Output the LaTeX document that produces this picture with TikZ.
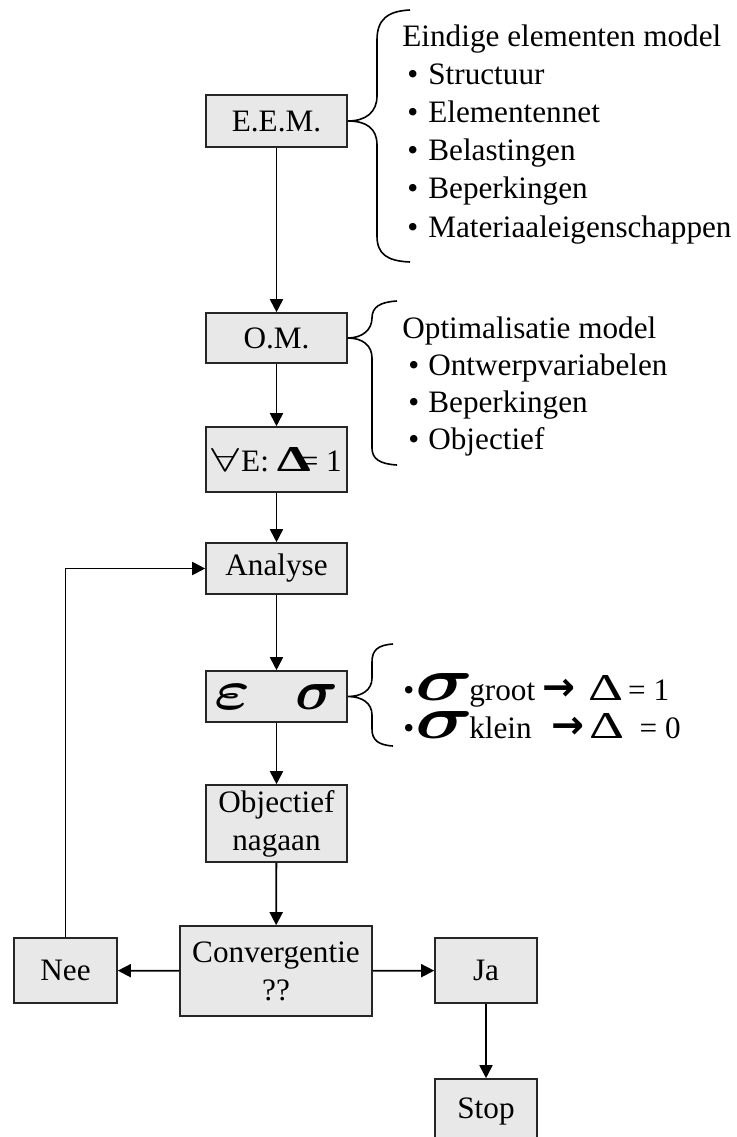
\documentclass[tikz,border=0pt]{standalone}
\usepackage{fontspec}
\setmainfont{Liberation Serif}
\newfontfamily\pijlfont{DejaVu Sans}
\usepackage{graphicx}
\usetikzlibrary{arrows.meta}

% large symbols as in the reference
\newcommand{\grotesigma}{\resizebox{29pt}{13.5pt}{\boldmath$\sigma$}}
\newcommand{\boxsigma}{\resizebox{21.5pt}{12.5pt}{\boldmath$\sigma$}}
\newcommand{\boxeps}{\resizebox{18pt}{12.5pt}{\boldmath$\varepsilon$}}
\newcommand{\grotedelta}{\resizebox{17.5pt}{12.5pt}{Δ}}
\newcommand{\pijltje}{\resizebox{16.5pt}{!}{\pijlfont\bfseries →}}

\tikzset{
  blok/.style={draw=black!85, fill=black!9, line width=0.8pt, inner sep=0pt,
    minimum width=70.5pt, align=center, font=\fontsize{15.6}{19}\selectfont},
  pijl/.style={-{Triangle[length=6.5pt,width=6.5pt]}, line width=0.9pt},
  accolade/.style={line width=0.8pt},
  lijst/.style={anchor=base west, inner sep=0pt, font=\fontsize{15.6}{19}\selectfont}
}

\begin{document}
\begin{tikzpicture}[x=0.5pt, y=-0.5pt]
    \useasboundingbox (0,0) rectangle (737,1137);

    % Main column of blocks
    \node[blok, minimum height=26pt] (eem) at (276.5,121) {E.E.M.};
    \node[blok, minimum height=25pt] (om) at (276.5,338) {O.M.};
    \node[blok, minimum height=32.5pt] (alle) at (276.5,459.5)
        {\resizebox{14pt}{11.5pt}{$\forall$}\kern1pt E:\ \resizebox{17pt}{12pt}{\bfseries Δ}\kern-5pt= 1};
    \node[blok, minimum height=25.5pt] (analyse) at (276.5,568.5) {Analyse};
    \node[blok, minimum height=25.5pt] (spanning) at (276.5,696.5)
        {\raisebox{-2pt}{\boxeps\hspace{22pt}\boxsigma}};
    \node[blok, minimum height=38.5pt] (objectief) at (276.5,823.5) {Objectief\\nagaan};
    \node[blok, minimum width=96pt, minimum height=45pt] (conv) at (276,971) {Convergentie\\??};

    % Outcome blocks
    \node[blok, minimum width=51.5pt, minimum height=32.5pt] (nee) at (65.5,970.5) {Nee};
    \node[blok, minimum width=51pt, minimum height=32.5pt] (ja) at (486,970.5) {Ja};
    \node[blok, minimum width=51pt, minimum height=32.5pt] (stop) at (486,1111.5) {Stop};

    % Arrows of the flow
    \draw[pijl] (eem) -- (om);
    \draw[pijl] (om) -- (alle);
    \draw[pijl] (alle) -- (analyse);
    \draw[pijl] (analyse) -- (spanning);
    \draw[pijl] (spanning) -- (objectief);
    \draw[pijl] (objectief) -- (conv);
    \draw[pijl] (conv) -- (nee);
    \draw[pijl] (conv) -- (ja);
    \draw[pijl] (ja) -- (stop);
    % Loop back to the analysis
    \draw[pijl] (nee.north) |- (analyse.west);

    % Brace at E.E.M.
    \draw[accolade] (410,10) .. controls (387,11) and (377,20) .. (377,40) -- (377,96)
        .. controls (377,112) and (366,121) .. (eem.east)
        .. controls (366,121) and (377,128) .. (377,145) -- (377,236)
        .. controls (377,254) and (387,261) .. (410,262);
    \node[lijst] (eemkop) at (402,46) {Eindige elementen model};
    \foreach \tekst [count=\i] in {Structuur, Elementennet, Belastingen, Beperkingen, Materiaaleigenschappen}
        \node[lijst] (eem\i) at (407,46+38.2*\i) {\makebox[10.5pt][l]{•}\tekst};

    % Brace at O.M.
    \draw[accolade] (397,301) .. controls (380,302) and (372,307) .. (372,318)
        .. controls (372,330) and (362,338) .. (om.east)
        .. controls (362,338) and (372,345) .. (372,358) -- (372,448)
        .. controls (372,459) and (380,464) .. (397,465);
    \node[lijst] (omkop) at (402,338) {Optimalisatie model};
    \foreach \tekst [count=\i] in {Ontwerpvariabelen, Beperkingen, Objectief}
        \node[lijst] (om\i) at (408,338+37.3*\i) {\makebox[10pt][l]{•}\tekst};

    % Brace at the stresses
    \draw[accolade] (393,644) .. controls (378,645) and (372,650) .. (372,662) -- (372,678)
        .. controls (372,690) and (362,696.5) .. (spanning.east)
        .. controls (362,696.5) and (372,703) .. (372,715) -- (372,729)
        .. controls (372,740) and (378,745) .. (393,746);
    \node[lijst] (groot) at (403,700)
        {•\kern0.5pt\grotesigma\kern-2pt groot\hspace{3.5pt}\pijltje\hspace{6.5pt}\grotedelta\hspace{2.5pt}= 1};
    \node[lijst] (klein) at (403,738)
        {•\kern0.5pt\grotesigma\kern-2pt klein\hspace{10pt}\pijltje\hspace{2.5pt}\grotedelta\hspace{7.5pt}= 0};
\end{tikzpicture}
\end{document}
